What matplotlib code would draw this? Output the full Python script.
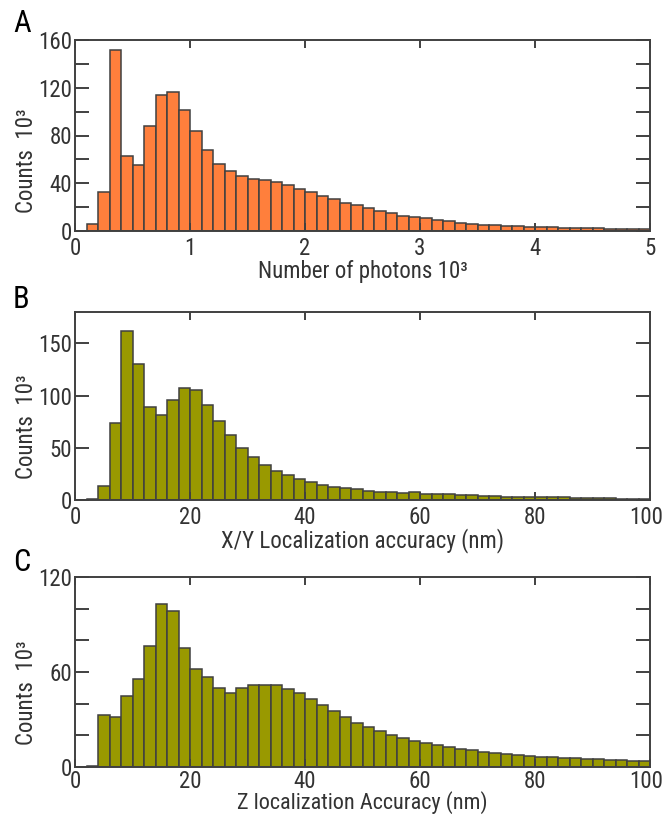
import numpy as np
import matplotlib
matplotlib.use("Agg")
import matplotlib.pyplot as plt
from matplotlib.ticker import MultipleLocator, FixedLocator, FuncFormatter

plt.rcParams['font.family'] = ['Roboto Condensed', 'Liberation Sans', 'DejaVu Sans']

# panel A: number of photons (10^3), bin width 0.1
photon_edges = np.arange(0, 5.01, 0.1)
photon_counts = [0, 5.6, 32.8, 151.5, 63.2, 55.3, 87.6, 114, 116.5, 101.6,
                 83.6, 67.6, 56.4, 50, 46, 43.8, 42.7, 41, 38.8, 35.5,
                 32.4, 29.3, 26.8, 23.7, 21.5, 19, 16.8, 14.8, 12.8, 11.5,
                 10.6, 9.2, 8.1, 7.0, 6.1, 5.3, 5.0, 4.2, 4.0, 3.6,
                 3.3, 3.0, 2.8, 2.5, 2.2, 2.2, 2.0, 1.7, 1.4, 1.4]

# panel B: X/Y localization accuracy (nm), bin width 2
xy_edges = np.arange(0, 100.1, 2)
xy_counts = [0, 1.0, 13.0, 74.2, 161.5, 130, 89.2, 81.4, 95.6, 107,
             105, 91.2, 75.2, 61.9, 49.7, 40.8, 33.7, 28, 23.5, 20.3,
             16.8, 14.6, 12.7, 11.4, 10.2, 8.9, 7.9, 7.5, 7.0, 7.2,
             6.0, 5.4, 5.4, 4.8, 4.4, 4.1, 4.1, 3.1, 3.1, 3.1,
             2.8, 2.5, 2.5, 2.2, 1.7, 1.7, 1.6, 1.3, 1.3, 1.0]

# panel C: Z localization accuracy (nm), bin width 2
z_edges = np.arange(0, 100.1, 2)
z_counts = [0, 0.6, 32.6, 31.6, 44.6, 55.8, 76.4, 102.7, 98.5, 75.2,
            61.7, 57.1, 49.7, 46.7, 49.7, 51.6, 52, 51.6, 49.5, 46.7,
            42.7, 38.9, 35.4, 31.4, 27.8, 25.3, 22.7, 20.2, 18.5, 16.6,
            14.9, 13.9, 12.6, 11.4, 10.5, 9.7, 8.8, 8.0, 7.4, 7.0,
            6.5, 6.3, 5.9, 5.5, 5.1, 5.1, 4.6, 4.4, 4.0, 4.0]

orange = '#FF7F3C'
olive = '#999900'
edge = '#404040'
txt = '#333333'
fs = 16.5

W, H = 664, 815
fig = plt.figure(figsize=(W / 100, H / 100), dpi=100)


def px_axes(top, bottom, left=75, right=650):
    return fig.add_axes([left / W, (H - bottom) / H, (right - left) / W, (bottom - top) / H])


def style(ax, xlim, ylim, xmajor, ymajor, ylabels, xlabel, label_y, xpad=4, lpad=0, xl_fs=fs):
    ax.set_xlim(*xlim)
    ax.set_ylim(*ylim)
    ax.xaxis.set_major_locator(MultipleLocator(xmajor))
    ax.yaxis.set_major_locator(FixedLocator(ylabels))
    ax.yaxis.set_minor_locator(MultipleLocator(ymajor))
    for s in ax.spines.values():
        s.set_color(edge)
        s.set_linewidth(1.4)
    ax.tick_params(axis='x', which='both', direction='in', top=True, length=6,
                   width=1.4, color=edge, labelsize=fs, labelcolor=txt, pad=xpad)
    ax.tick_params(axis='y', which='both', direction='in', right=True, length=10,
                   width=1.4, color=edge, labelsize=fs, labelcolor=txt, pad=2)
    ax.set_xlabel(xlabel, fontsize=xl_fs, labelpad=lpad, color=txt)
    ax.set_ylabel('Counts  10³', fontsize=fs, color=txt)
    ax.yaxis.set_label_coords(-0.064, label_y)


def right_label(ax, value, pad=4):
    # last x label drawn by hand, pulled a little left so it stays in the figure
    ax.xaxis.set_major_formatter(FuncFormatter(lambda v, p: '' if v == value else '%g' % v))
    ax.annotate('%g' % value, xy=(value, 0), xycoords=('data', 'axes fraction'),
                xytext=(-3, -pad), textcoords='offset points', ha='center', va='top',
                fontsize=fs, color=txt)


axA = px_axes(40, 231)
axA.bar(photon_edges[:-1], photon_counts, width=0.1, align='edge',
        color=orange, edgecolor=edge, linewidth=1.1)
style(axA, (0, 5), (0, 160), 1, 20, [0, 40, 80, 120, 160], 'Number of photons 10³', 0.37)

axB = px_axes(312, 500)
axB.bar(xy_edges[:-1], xy_counts, width=2, align='edge',
        color=olive, edgecolor=edge, linewidth=1.1)
style(axB, (0, 100), (0, 180), 20, 50, [0, 50, 100, 150], 'X/Y Localization accuracy (nm)', 0.39)
right_label(axB, 100)

axC = px_axes(577, 767)
axC.bar(z_edges[:-1], z_counts, width=2, align='edge',
        color=olive, edgecolor=edge, linewidth=1.1)
style(axC, (0, 100), (0, 120), 20, 20, [0, 60, 120], 'Z localization Accuracy (nm)', 0.39,
      xpad=2, lpad=-1, xl_fs=16)
right_label(axC, 100, pad=2)

for letter, base in [('A', 32), ('B', 308), ('C', 571)]:
    fig.text(13 / W, (H - base) / H, letter, fontsize=22, va='baseline', ha='left', color='black')

fig.savefig('out.png', dpi=100)
